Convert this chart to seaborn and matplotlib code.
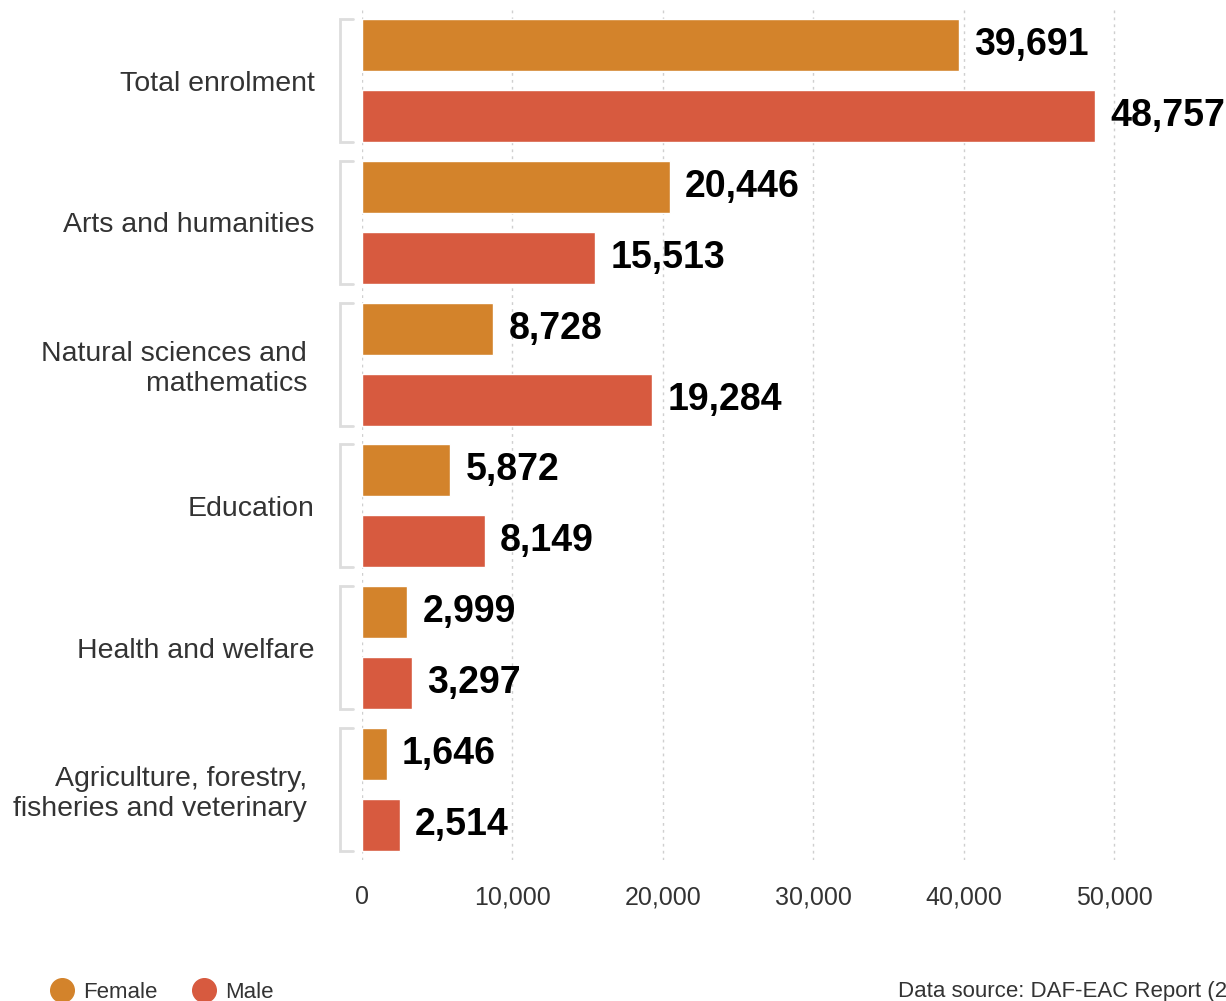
import matplotlib
matplotlib.use("Agg")
import matplotlib.pyplot as plt
import seaborn as sns
import pandas as pd
from matplotlib.lines import Line2D
import matplotlib.transforms as mtransforms

categories = ["Total enrolment", "Arts and humanities", "Natural sciences and\nmathematics",
              "Education", "Health and welfare", "Agriculture, forestry,\nfisheries and veterinary"]
female = [39691, 20446, 8728, 5872, 2999, 1646]
male = [48757, 15513, 19284, 8149, 3297, 2514]
genders = ["Female", "Male"]
colors = {"Female": "#D3832B", "Male": "#D75A3F"}
xticks = [0, 10000, 20000, 30000, 40000, 50000]

df = pd.DataFrame({
    "Field": categories * 2,
    "Gender": ["Female"] * len(categories) + ["Male"] * len(categories),
    "Students": female + male,
})

sns.set_theme(style="white")
plt.rcParams["font.family"] = ["Liberation Sans", "DejaVu Sans"]

W, H = 1226, 1001
fig = plt.figure(figsize=(W / 100, H / 100), dpi=100)
ax = fig.add_axes([362 / W, 1 - 860 / H, (W - 362) / W, 850 / H])

sns.barplot(data=df, y="Field", x="Students", hue="Gender", order=categories,
            hue_order=genders, palette=colors, orient="h", width=1.0, gap=0.266,
            saturation=1, legend=False, ax=ax)

ax.set_xlim(0, (W - 362) / 15.04 * 1000)
ax.set_ylim(len(categories) - 0.5, -0.5)
ax.set_xlabel("")
ax.set_ylabel("")
for s in ax.spines.values():
    s.set_visible(False)

ax.set_axisbelow(True)
ax.grid(axis="x", linestyle=(0, (2, 3)), color="#cfcfcf", linewidth=1)
ax.grid(axis="y", visible=False)
ax.set_xticks(xticks)
ax.set_xticklabels([f"{v:,}" for v in xticks], fontsize=18, color="#333333")
ax.tick_params(axis="x", length=0, pad=18)
# multi-line labels sit a little further left in the reference
ax.set_yticks(range(len(categories)))
ax.set_yticklabels([("\n".join(l + " " for l in c.split("\n")) if "\n" in c else c)
                    for c in categories])
ax.tick_params(axis="y", length=0, pad=34, labelsize=20.5, labelcolor="#333333")

for cont in ax.containers:
    ax.bar_label(cont, labels=[f"{int(b.get_width()):,}" for b in cont],
                 padding=11, fontsize=27, fontweight="bold", color="black", clip_on=False)

# group brackets
trans = mtransforms.blended_transform_factory(ax.transAxes, ax.transData)
x0, x1 = -22 / (W - 362), -9 / (W - 362)
for i in range(len(categories)):
    top, bot = i - 0.433, i + 0.433
    ax.plot([x1, x0, x0, x1], [top, top, bot, bot], color="#dddddd", lw=2,
            transform=trans, clip_on=False, solid_joinstyle="miter")

# legend
handles = [Line2D([], [], marker="o", linestyle="", markersize=17,
                  markerfacecolor=colors[g], markeredgecolor=colors[g]) for g in genders]
fig.legend(handles, genders, loc="center left", bbox_to_anchor=(40 / W, 1 - 992 / H),
           ncol=2, frameon=False, fontsize=16, handlelength=1.0, handletextpad=0.45,
           columnspacing=1.6, borderpad=0, labelcolor="#333333")

fig.text(898 / W, 1 - 991 / H, "Data source: DAF-EAC Report (2", fontsize=16,
         color="#333333", ha="left", va="center")

fig.savefig("out.png", dpi=100)
